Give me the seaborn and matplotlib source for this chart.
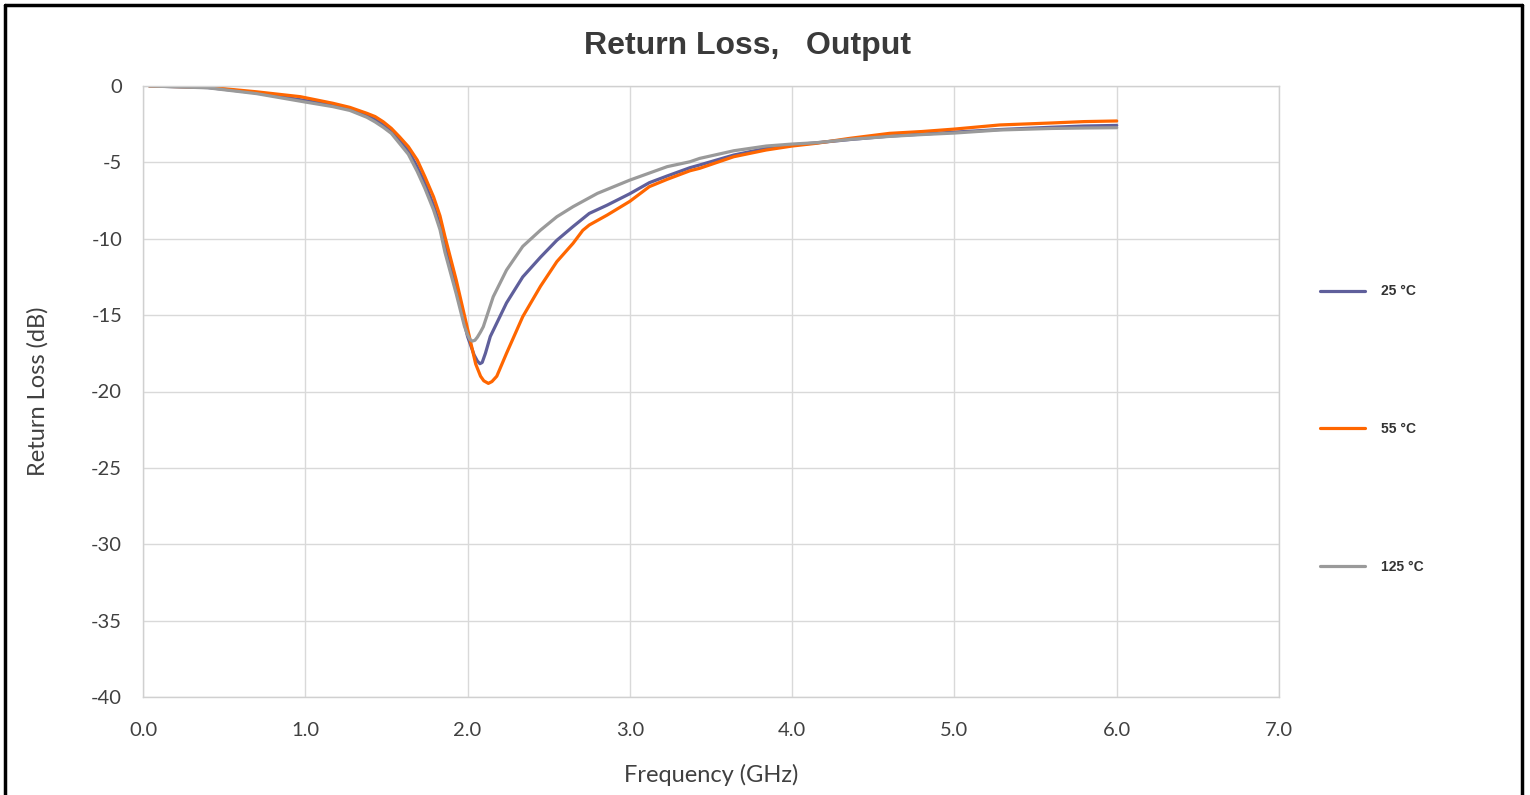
import numpy as np
import pandas as pd
import matplotlib
matplotlib.use("Agg")
import matplotlib.pyplot as plt
from matplotlib.lines import Line2D
import seaborn as sns

# ---------------- data ----------------
series_names = ["25 °C", "55 °C", "125 °C"]

freq_25 = [0.04, 0.4, 0.7, 1.0, 1.17, 1.275, 1.38, 1.43, 1.48, 1.53, 1.58, 1.635, 1.69, 1.737, 1.79,
           1.83, 1.861, 1.93, 2.0, 2.04, 2.06, 2.076, 2.09, 2.11, 2.14, 2.24, 2.34, 2.45, 2.55, 2.65,
           2.75, 2.86, 3.0, 3.12, 3.23, 3.37, 3.43, 3.64, 3.84, 4.0, 4.15, 4.36, 4.6, 4.8, 5.0, 5.28,
           5.6, 5.8, 6.0]
rl_25 = [0, -0.1, -0.45, -0.95, -1.25, -1.5, -1.95, -2.2, -2.55, -2.95, -3.55, -4.22, -5.3, -6.35, -7.8,
         -9.1, -10.4, -13.3, -16.4, -17.6, -18.0, -18.18, -18.1, -17.5, -16.4, -14.2, -12.5, -11.2, -10.1, -9.2,
         -8.34, -7.8, -7.05, -6.33, -5.89, -5.35, -5.17, -4.52, -4.08, -3.86, -3.72, -3.5, -3.28, -3.15, -3.02,
         -2.85, -2.7, -2.62, -2.58]

freq_55 = [0.04, 0.4, 0.7, 0.97, 1.17, 1.275, 1.38, 1.43, 1.48, 1.53, 1.58, 1.635, 1.69, 1.737, 1.79,
           1.83, 1.861, 1.93, 2.0, 2.05, 2.08, 2.1, 2.128, 2.15, 2.18, 2.24, 2.34, 2.45, 2.55, 2.65,
           2.71, 2.75, 2.86, 3.0, 3.12, 3.23, 3.37, 3.43, 3.64, 3.84, 4.0, 4.15, 4.36, 4.6, 4.8, 5.0,
           5.28, 5.6, 5.8, 6.0]
rl_55 = [0, -0.08, -0.38, -0.70, -1.13, -1.4, -1.79, -2.0, -2.34, -2.77, -3.32, -3.97, -4.85, -5.94, -7.25,
         -8.5, -9.87, -12.7, -15.9, -18.2, -19.0, -19.3, -19.47, -19.35, -19.0, -17.5, -15.1, -13.1, -11.5, -10.3,
         -9.45, -9.1, -8.45, -7.55, -6.59, -6.11, -5.55, -5.39, -4.63, -4.19, -3.93, -3.75, -3.42, -3.1, -2.98,
         -2.82, -2.55, -2.42, -2.33, -2.29]

freq_125 = [0.04, 0.4, 0.7, 1.0, 1.17, 1.275, 1.38, 1.43, 1.48, 1.53, 1.58, 1.635, 1.69, 1.737, 1.79,
            1.83, 1.861, 1.93, 1.98, 2.0, 2.015, 2.029, 2.045, 2.06, 2.08, 2.097, 2.158, 2.24, 2.34, 2.45,
            2.55, 2.65, 2.8, 3.0, 3.12, 3.23, 3.37, 3.43, 3.64, 3.84, 4.0, 4.15, 4.36, 4.6, 4.8, 5.0,
            5.28, 5.6, 5.8, 6.0]
rl_125 = [0, -0.12, -0.5, -1.05, -1.35, -1.6, -2.05, -2.35, -2.7, -3.1, -3.75, -4.47, -5.6, -6.7, -8.1,
          -9.4, -10.9, -13.6, -15.7, -16.3, -16.6, -16.7, -16.65, -16.45, -16.1, -15.76, -13.8, -12.05, -10.5, -9.43,
          -8.56, -7.9, -7.03, -6.16, -5.7, -5.28, -4.96, -4.74, -4.24, -3.93, -3.8, -3.71, -3.49, -3.3, -3.18,
          -3.08, -2.88, -2.78, -2.75, -2.73]

x_ticks = [0.0, 1.0, 2.0, 3.0, 4.0, 5.0, 6.0, 7.0]
y_ticks = [0, -5, -10, -15, -20, -25, -30, -35, -40]

df = pd.concat([
    pd.DataFrame({"Frequency": freq_25, "RL": rl_25, "Temp": series_names[0]}),
    pd.DataFrame({"Frequency": freq_55, "RL": rl_55, "Temp": series_names[1]}),
    pd.DataFrame({"Frequency": freq_125, "RL": rl_125, "Temp": series_names[2]}),
], ignore_index=True)

colors = {"25 °C": "#5f5f9b", "55 °C": "#ff6600", "125 °C": "#9a9a9a"}

# ---------------- figure ----------------
sns.set_theme(style="white")
plt.rcParams["font.family"] = ["Lato", "DejaVu Sans"]

fig = plt.figure(figsize=(15.3, 7.95), dpi=100)
ax = fig.add_axes([143 / 1530, 1 - 697 / 795, (1279 - 143) / 1530, (697 - 86) / 795])

sns.lineplot(data=df, x="Frequency", y="RL", hue="Temp", hue_order=series_names,
             palette=colors, estimator=None, sort=False, linewidth=2.3, ax=ax, legend=False)

ax.set_xlim(0, 7)
ax.set_ylim(-40, 0)
ax.set_xticks(x_ticks)
ax.set_xticklabels([f"{v:.1f}" for v in x_ticks])
ax.set_yticks(y_ticks)
ax.set_yticklabels([str(v) for v in y_ticks])
ax.grid(True, color="#d9d9d9", linewidth=1.0)
ax.set_axisbelow(True)
for s in ax.spines.values():
    s.set_color("#d0d0d0")
    s.set_linewidth(1.0)
ax.tick_params(axis="both", length=0, labelsize=14.5, colors="#404040")
ax.tick_params(axis="x", pad=18)
ax.tick_params(axis="y", pad=15)

ax.set_xlabel("Frequency (GHz)", fontsize=17, color="#404040", labelpad=18)
ax.set_ylabel("Return Loss (dB)", fontsize=17, color="#404040", labelpad=31)

fig.text(747 / 1530, 1 - 46 / 795, "Return Loss,   Output", ha="center", va="center",
         fontsize=23, fontweight="bold", color="#3a3a3a", family="Liberation Sans")

handles = [Line2D([0], [0], color=colors[n], linewidth=2.3) for n in series_names]
leg = fig.legend(handles, series_names, loc="center left",
                 bbox_to_anchor=(1307 / 1530, 1 - 429 / 795), frameon=False,
                 prop={"family": "Liberation Sans", "weight": "bold", "size": 10},
                 labelspacing=8.9, handlelength=3.3, handletextpad=1.1)
for t in leg.get_texts():
    t.set_color("#333333")

# outer frame (left, top, right)
frame_kw = dict(color="black", linewidth=2.5, transform=fig.transFigure)
fig.add_artist(Line2D([5 / 1530, 5 / 1530], [-0.01, 1 - 5 / 795], **frame_kw))
fig.add_artist(Line2D([5 / 1530, 1522 / 1530], [1 - 5 / 795, 1 - 5 / 795], **frame_kw))
fig.add_artist(Line2D([1522 / 1530, 1522 / 1530], [-0.01, 1 - 5 / 795], **frame_kw))

fig.savefig("out.png", dpi=100)
